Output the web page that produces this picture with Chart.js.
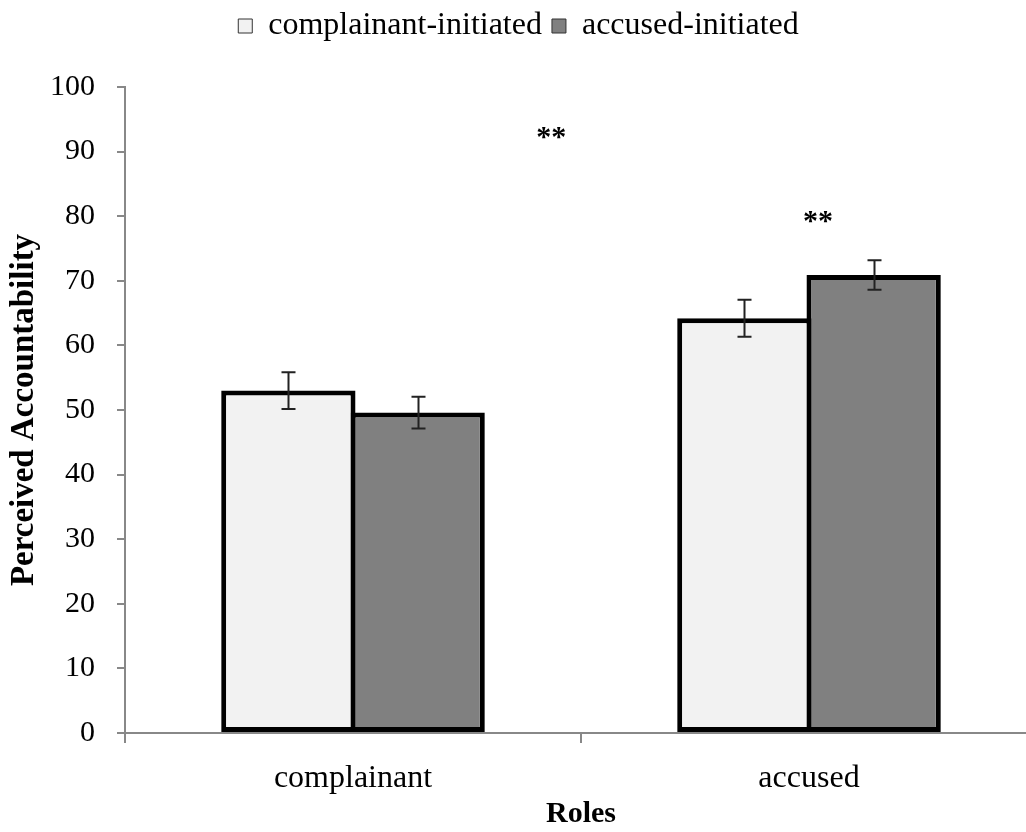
<!DOCTYPE html>
<html>
<head>
<meta charset="utf-8">
<script src="https://cdn.jsdelivr.net/npm/chart.js@4"></script>
<style>
  html, body { margin: 0; padding: 0; background: #fff; overflow: hidden; }
  #wrap { width: 1026px; height: 832px; overflow: hidden; }
</style>
</head>
<body>
<div id="wrap"><canvas id="chart" width="1037" height="832"></canvas></div>
<script>
// Data
const roles = ['complainant', 'accused'];
const seriesNames = ['complainant-initiated', 'accused-initiated'];
const complainantInitiated = [53.0, 64.2];
const accusedInitiated = [49.6, 70.9];
const complainantInitiatedErr = [2.85, 2.85];
const accusedInitiatedErr = [2.45, 2.3];
const yTicks = [0, 10, 20, 30, 40, 50, 60, 70, 80, 90, 100];
// significance marks: position in category-index units and value units
const starX = [0.435, 1.02];
const starY = [92.6, 79.5];

const errors = [complainantInitiatedErr, accusedInitiatedErr];
const serif = "'Liberation Serif', 'Times New Roman', serif";

// Force the legend box to a fixed height so the plot top lands where it should
const legendHeight = {
    id: 'legendHeight',
    beforeInit(chart) {
        const fit = chart.legend.fit;
        chart.legend.fit = function () {
            fit.bind(chart.legend)();
            this.height = 87;
        };
    }
};

// Error bars and the ** markers
const extras = {
    id: 'extras',
    afterDatasetsDraw(chart) {
        const ctx = chart.ctx;
        const y = chart.scales.y;
        const x = chart.scales.x;
        ctx.save();
        ctx.strokeStyle = '#222';
        ctx.lineWidth = 2;
        chart.data.datasets.forEach((ds, i) => {
            const meta = chart.getDatasetMeta(i);
            meta.data.forEach((bar, j) => {
                const v = ds.data[j];
                const e = errors[i][j];
                const top = y.getPixelForValue(v + e);
                const bot = y.getPixelForValue(v - e);
                const cx = Math.round(bar.x) + 0.5;
                ctx.beginPath();
                ctx.moveTo(cx, top); ctx.lineTo(cx, bot);
                ctx.moveTo(cx - 7, top); ctx.lineTo(cx + 7, top);
                ctx.moveTo(cx - 7, bot); ctx.lineTo(cx + 7, bot);
                ctx.stroke();
            });
        });
        ctx.fillStyle = '#000';
        ctx.font = "bold 30px " + serif;
        ctx.textAlign = 'center';
        ctx.textBaseline = 'middle';
        starX.forEach((sx, k) => {
            ctx.fillText('**', x.getPixelForValue(sx), y.getPixelForValue(starY[k]) + 3);
        });
        ctx.restore();
    }
};

new Chart(document.getElementById('chart'), {
    type: 'bar',
    data: {
        labels: roles,
        datasets: [{
            label: seriesNames[0],
            data: complainantInitiated,
            backgroundColor: '#f2f2f2',
            borderColor: '#000',
            borderWidth: 5,
            borderSkipped: false,
            categoryPercentage: 0.567,
            barPercentage: 1.039
        }, {
            label: seriesNames[1],
            data: accusedInitiated,
            backgroundColor: '#808080',
            borderColor: '#000',
            borderWidth: 5,
            borderSkipped: false,
            categoryPercentage: 0.567,
            barPercentage: 1.039
        }]
    },
    options: {
        responsive: false,
        animation: false,
        plugins: {
            tooltip: { enabled: false },
            legend: {
                position: 'top',
                labels: {
                    font: { family: serif, size: 32 },
                    color: '#000',
                    boxWidth: 14,
                    boxHeight: 14,
                    padding: 10,
                    generateLabels(chart) {
                        return Chart.defaults.plugins.legend.labels.generateLabels(chart)
                            .map(l => Object.assign(l, { lineWidth: 1, strokeStyle: '#333' }));
                    }
                }
            }
        },
        scales: {
            x: {
                grid: { display: true, drawOnChartArea: false, drawTicks: true, tickLength: 10, color: '#888', lineWidth: 2 },
                border: { color: '#888', width: 2 },
                ticks: { font: { family: serif, size: 32 }, color: '#000', padding: 16 },
                title: {
                    display: true, text: 'Roles', color: '#000',
                    font: { family: serif, size: 30, weight: 'bold' },
                    padding: { top: 0, bottom: 0 }
                },
                afterFit(scale) { scale.height = 99; }
            },
            y: {
                min: 0,
                max: 100,
                afterBuildTicks(scale) { scale.ticks = yTicks.map(v => ({ value: v })); },
                grid: { display: true, drawOnChartArea: false, drawTicks: true, tickLength: 8, color: '#888', lineWidth: 2 },
                border: { color: '#888', width: 2 },
                ticks: { font: { family: serif, size: 30 }, color: '#000', padding: 22 },
                title: {
                    display: true, text: 'Perceived Accountability', color: '#000',
                    font: { family: serif, size: 33, weight: 'bold' },
                    padding: { top: 5, bottom: 0 }
                },
                afterFit(scale) { scale.width = 125; }
            }
        }
    },
    plugins: [legendHeight, extras]
});
</script>
</body>
</html>
